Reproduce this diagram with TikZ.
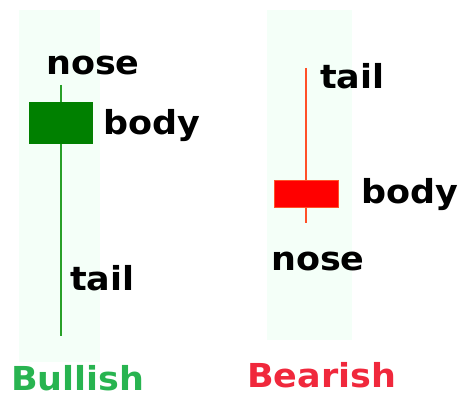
\documentclass[tikz,border=0pt]{standalone}
\usepackage{fontspec}
\setmainfont[FakeStretch=1.06]{DejaVu Sans}
\definecolor{panelbg}{RGB}{244,255,248}
\definecolor{bullbody}{RGB}{0,128,0}
\definecolor{bullwick}{RGB}{40,160,40}
\definecolor{bullcap}{RGB}{40,180,80}
\definecolor{bearbody}{RGB}{255,0,0}
\definecolor{bearwick}{RGB}{255,80,40}
\definecolor{bearcap}{RGB}{240,40,60}
\begin{document}
\begin{tikzpicture}[x=1pt,y=-1pt,
  lbl/.style={font=\fontsize{33}{33}\selectfont\bfseries, inner sep=0pt, anchor=base west},
  caption/.style={font=\fontsize{33}{33}\selectfont\bfseries, inner sep=0pt, anchor=base west},
  candle/.style={draw=none, inner sep=0pt, minimum width=64pt},
  wick/.style={line width=2pt}]
\useasboundingbox (0,0) rectangle (462,398);
% column backgrounds
\fill[panelbg] (19,10) rectangle (100,362);
\fill[panelbg] (267,10) rectangle (352,340);

% bullish candle
\coordinate (bullTop) at (61,85);
\coordinate (bullBot) at (61,336);
\draw[wick, bullwick] (bullTop) -- (bullBot);
\node[candle, fill=bullbody, minimum height=42pt] (bullBody) at (60.5,123) {};
\node[lbl] (bullNose) at (46,75) {nose};
\node[lbl] (bullBodyLbl) at (103,135) {body};
\node[lbl] (bullTail) at (70,290) {tail};
\node[caption, text=bullcap] (bull) at (11,390) {Bullish};

% bearish candle
\coordinate (bearTop) at (306,68);
\coordinate (bearBot) at (306,223);
\draw[wick, bearwick] (bearTop) -- (bearBot);
\node[candle, fill=bearbody, draw=bearwick, line width=0.8pt, minimum height=27pt] (bearBody) at (306,194) {};
\node[lbl] (bearTail) at (320,89) {tail};
\node[lbl] (bearBodyLbl) at (361,203) {body};
\node[lbl] (bearNose) at (271,270) {nose};
\node[caption, text=bearcap] (bear) at (247,387) {Bearish};
\end{tikzpicture}
\end{document}
